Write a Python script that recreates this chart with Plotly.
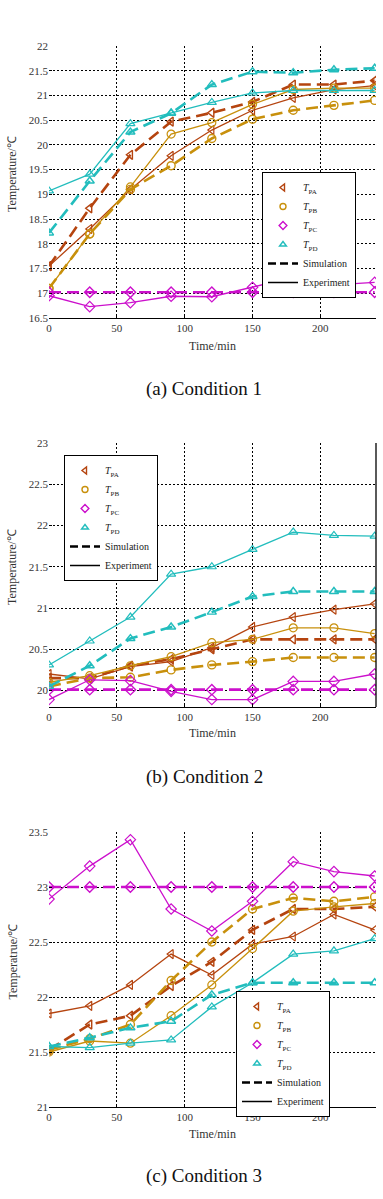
import plotly.graph_objects as go

# ---------------- data ----------------
time = [0, 30, 60, 90, 120, 150, 180, 210, 240]

# Condition 1
c1_PA_sim = [17.55, 18.72, 19.8, 20.47, 20.65, 20.87, 21.22, 21.22, 21.3]
c1_PA_exp = [17.55, 18.3, 19.1, 19.78, 20.3, 20.7, 20.95, 21.12, 21.2]
c1_PB_sim = [17.1, 18.2, 19.1, 19.58, 20.13, 20.52, 20.7, 20.8, 20.9]
c1_PB_exp = [17.1, 18.2, 19.15, 20.22, 20.45, 20.82, 21.12, 21.15, 21.15]
c1_PC_sim = [17.02, 17.02, 17.02, 17.02, 17.02, 17.02, 17.02, 17.02, 17.02]
c1_PC_exp = [16.95, 16.73, 16.81, 16.94, 16.93, 17.12, 17.32, 17.17, 17.22]
c1_PD_sim = [18.22, 19.27, 20.26, 20.64, 21.22, 21.48, 21.46, 21.52, 21.55]
c1_PD_exp = [19.07, 19.41, 20.43, 20.65, 20.86, 21.05, 21.1, 21.1, 21.1]

# Condition 2
c2_PA_sim = [20.15, 20.15, 20.3, 20.38, 20.5, 20.62, 20.62, 20.62, 20.62]
c2_PA_exp = [20.2, 20.14, 20.29, 20.35, 20.52, 20.77, 20.89, 20.98, 21.05]
c2_PB_sim = [20.05, 20.15, 20.16, 20.25, 20.31, 20.35, 20.4, 20.4, 20.4]
c2_PB_exp = [20.1, 20.18, 20.3, 20.41, 20.58, 20.62, 20.76, 20.76, 20.69]
c2_PC_sim = [20.01, 20.01, 20.01, 20.01, 20.01, 20.01, 20.01, 20.01, 20.01]
c2_PC_exp = [19.89, 20.13, 20.12, 19.99, 19.89, 19.89, 20.11, 20.11, 20.2]
c2_PD_sim = [20.05, 20.3, 20.63, 20.77, 20.95, 21.14, 21.2, 21.2, 21.2]
c2_PD_exp = [20.31, 20.6, 20.89, 21.41, 21.5, 21.71, 21.92, 21.88, 21.87]

# Condition 3
c3_PA_sim = [21.52, 21.75, 21.83, 22.1, 22.32, 22.61, 22.8, 22.8, 22.82]
c3_PA_exp = [21.85, 21.92, 22.11, 22.39, 22.2, 22.48, 22.55, 22.75, 22.61]
c3_PB_sim = [21.52, 21.62, 21.75, 22.15, 22.5, 22.8, 22.9, 22.87, 22.91]
c3_PB_exp = [21.5, 21.6, 21.58, 21.83, 22.11, 22.44, 22.78, 22.82, 22.85]
c3_PC_sim = [23.0, 23.0, 23.0, 23.0, 23.0, 23.0, 23.0, 23.0, 23.0]
c3_PC_exp = [22.89, 23.19, 23.43, 22.8, 22.6, 22.87, 23.23, 23.14, 23.1]
c3_PD_sim = [21.55, 21.63, 21.72, 21.78, 22.02, 22.13, 22.13, 22.13, 22.13]
c3_PD_exp = [21.55, 21.54, 21.58, 21.61, 21.91, 22.13, 22.39, 22.42, 22.53]

series_names = ["<i>T</i><sub>PA</sub>", "<i>T</i><sub>PB</sub>",
                "<i>T</i><sub>PC</sub>", "<i>T</i><sub>PD</sub>"]
captions = ["(a) Condition 1", "(b) Condition 2", "(c) Condition 3"]
ytitles = ["Temperature/℃", "Temperature/℃", "Temperatrue/℃"]
x_ticks = [0, 50, 100, 150, 200]

conditions = [
    [(c1_PA_sim, c1_PA_exp), (c1_PB_sim, c1_PB_exp), (c1_PC_sim, c1_PC_exp), (c1_PD_sim, c1_PD_exp)],
    [(c2_PA_sim, c2_PA_exp), (c2_PB_sim, c2_PB_exp), (c2_PC_sim, c2_PC_exp), (c2_PD_sim, c2_PD_exp)],
    [(c3_PA_sim, c3_PA_exp), (c3_PB_sim, c3_PB_exp), (c3_PC_sim, c3_PC_exp), (c3_PD_sim, c3_PD_exp)],
]

# ---------------- style ----------------
W, H = 383, 1199
colors = ["#B5440F", "#C8900C", "#CC10CC", "#22BDBD"]
symbols = ["triangle-left-open", "circle-open", "diamond-open", "triangle-up-open"]
FONT = "Liberation Serif, Times New Roman, serif"

# pixel geometry
x_px = (49, 376)
y_px = [(46, 318), (443, 707), (832, 1107)]
y_ranges = [(16.5, 22.0), (19.8, 23.0), (21.0, 23.5)]
y_dtick = 0.5
legend_pos = [(262, 172), (64, 455), (236, 991)]
xtitle_py = [346, 733, 1134]
caption_py = [389, 777, 1176]


def px2x(p):
    return p / W


def py2y(p):
    return 1 - p / H


fig = go.Figure()

for k, cond in enumerate(conditions):
    xa = "x" if k == 0 else f"x{k+1}"
    ya = "y" if k == 0 else f"y{k+1}"
    lg = "legend" if k == 0 else f"legend{k+1}"
    for i, (sim, exp) in enumerate(cond):
        fig.add_trace(go.Scatter(
            x=time, y=sim, xaxis=xa, yaxis=ya, mode="lines+markers",
            line=dict(color=colors[i], width=2.6, dash="12px,6px"),
            marker=dict(symbol=symbols[i], size=8, color=colors[i], line=dict(width=1.4)),
            showlegend=False, legend=lg))
        fig.add_trace(go.Scatter(
            x=time, y=exp, xaxis=xa, yaxis=ya, mode="lines+markers",
            line=dict(color=colors[i], width=1.3),
            marker=dict(symbol=symbols[i], size=8, color=colors[i], line=dict(width=1.2)),
            showlegend=False, legend=lg))
    # legend-only entries
    for i in range(4):
        fig.add_trace(go.Scatter(
            x=[None], y=[None], xaxis=xa, yaxis=ya, mode="markers", name=series_names[i],
            marker=dict(symbol=symbols[i], size=6, color=colors[i], line=dict(width=1.4)),
            legend=lg))
    fig.add_trace(go.Scatter(x=[None], y=[None], xaxis=xa, yaxis=ya, mode="lines",
                             name="Simulation", line=dict(color="black", width=2.4, dash="8px,4px"),
                             legend=lg))
    fig.add_trace(go.Scatter(x=[None], y=[None], xaxis=xa, yaxis=ya, mode="lines",
                             name="Experiment", line=dict(color="black", width=1.5),
                             legend=lg))

layout = dict(
    width=W, height=H,
    margin=dict(l=0, r=0, t=0, b=0),
    paper_bgcolor="white", plot_bgcolor="white",
    font=dict(family=FONT, size=11, color="#222"),
    template="none",
    annotations=[],
    shapes=[],
)

for k in range(3):
    sfx = "" if k == 0 else str(k + 1)
    top, bot = y_px[k]
    layout["xaxis" + sfx] = dict(
        domain=[px2x(x_px[0]), px2x(x_px[1])], range=[0, 241], anchor="y" + sfx,
        tickvals=x_ticks, showgrid=True, gridcolor="black", gridwidth=1.3, griddash="2px,2px",
        zeroline=False, showline=True, linecolor="black", linewidth=1.3, mirror=False,
        ticks="inside", ticklen=3, tickcolor="black",
        tickfont=dict(family=FONT, size=11, color="#333"), automargin=False)
    layout["yaxis" + sfx] = dict(
        domain=[py2y(bot), py2y(top)], range=list(y_ranges[k]), anchor="x" + sfx,
        dtick=y_dtick, showgrid=True, gridcolor="black", gridwidth=1.3, griddash="2px,2px",
        zeroline=False, showline=False, ticks="inside", ticklen=3, tickcolor="black",
        tickfont=dict(family=FONT, size=11, color="#333"), automargin=False)
    lx, ly = legend_pos[k]
    layout["legend" if k == 0 else f"legend{k+1}"] = dict(
        x=px2x(lx), y=py2y(ly), xanchor="left", yanchor="top",
        bgcolor="white", bordercolor="black", borderwidth=1,
        font=dict(family=FONT, size=10, color="#222"),
        tracegroupgap=0, itemwidth=30)
    layout["annotations"].append(dict(
        x=px2x((x_px[0] + x_px[1]) / 2), y=py2y(xtitle_py[k]), xref="paper", yref="paper",
        text="Time/min", showarrow=False, font=dict(family=FONT, size=12, color="#333"),
        xanchor="center", yanchor="middle"))
    layout["annotations"].append(dict(
        x=px2x(12), y=py2y((top + bot) / 2 - 8), xref="paper", yref="paper",
        text=ytitles[k], textangle=-90, showarrow=False,
        font=dict(family=FONT, size=12, color="#333"), xanchor="center", yanchor="middle"))
    layout["annotations"].append(dict(
        x=px2x(204), y=py2y(caption_py[k]), xref="paper", yref="paper",
        text=captions[k], showarrow=False, font=dict(family=FONT, size=19, color="#111"),
        xanchor="center", yanchor="middle"))

# solid right frame line on the middle panel (as in the reference)
layout["shapes"].append(dict(type="line", xref="x2 domain", yref="y2 domain",
                             x0=1, x1=1, y0=0, y1=1, line=dict(color="black", width=1.3)))

fig.update_layout(**layout)
fig.write_html("out.html")
